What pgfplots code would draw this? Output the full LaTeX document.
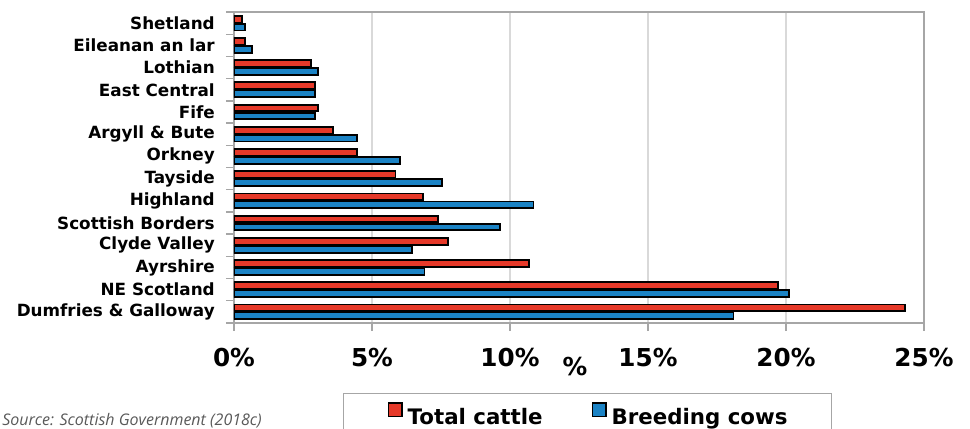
\documentclass[border=0pt]{standalone}
\usepackage{pgfplots}
\pgfplotsset{compat=1.18}
\usepackage{fontspec}
\setmainfont{DejaVu Sans}
\newfontfamily\srcfont{Open Sans}
\definecolor{cred}{RGB}{230,57,41}
\definecolor{cblue}{RGB}{27,131,197}
\definecolor{gridc}{RGB}{217,217,217}
\definecolor{axc}{RGB}{166,166,166}
\begin{document}
\begin{tikzpicture}
\begin{axis}[
  scale only axis,
  width=517.5pt, height=233.25pt,
  xmin=0, xmax=25, ymin=-0.5, ymax=13.5,
  xbar, bar width=5pt,
  tick align=outside,
  xtick pos=bottom, ytick pos=left,
  major tick length=6pt,
  tick style={axc, line width=1pt},
  axis line style={axc, line width=1.2pt},
  xmajorgrids,
  grid style={gridc, line width=1pt},
  xtick={0,5,10,15,20,25},
  xticklabels={0\%,5\%,10\%,15\%,20\%,25\%},
  xticklabel style={font=\fontsize{18.5}{20}\selectfont\bfseries, yshift=-9.7pt},
  ytick={-0.5,0.5,...,13.5},
  yticklabels={},
  extra y ticks={0,1,...,13},
  extra y tick labels={Dumfries \& Galloway,NE Scotland,Ayrshire,Clyde Valley,Scottish Borders,Highland,Tayside,Orkney,Argyll \& Bute,Fife,East Central,Lothian,Eileanan an lar,Shetland},
  extra y tick style={major tick length=0pt, yticklabel style={font=\fontsize{12.6}{14}\selectfont\bfseries, xshift=-10.9pt}},
  xlabel={\%},
  xlabel style={at={(axis description cs:0.494,0)}, anchor=north, yshift=-22pt, font=\fontsize{18.5}{20}\selectfont\bfseries},
  legend columns=2,
  legend style={at={(0.158,-0.2251)}, anchor=north west, draw=axc, line width=1pt,
    font=\fontsize{16}{19}\selectfont\bfseries,
    inner xsep=33pt, inner ysep=6.5pt,
    nodes={inner sep=0pt},
    /tikz/every odd column/.append style={column sep=3.75pt},
    /tikz/every even column/.append style={column sep=36.75pt}},
  legend image code/.code={\draw[#1,/tikz/.cd,line width=1.2pt] (0.6pt,0.6pt) rectangle (10.65pt,10.65pt);},
]
\addplot[fill=cred, draw=black, line width=1.4pt, bar shift=3pt] coordinates {
 (24.3,0) (19.7,1) (10.7,2) (7.75,3) (7.4,4) (6.85,5) (5.85,6) (4.45,7) (3.6,8) (3.05,9) (2.95,10) (2.8,11) (0.4,12) (0.3,13)};
\addlegendentry{Total cattle}
\addplot[fill=cblue, draw=black, line width=1.4pt, bar shift=-3pt] coordinates {
 (18.1,0) (20.1,1) (6.9,2) (6.45,3) (9.65,4) (10.85,5) (7.55,6) (6.0,7) (4.45,8) (2.95,9) (2.95,10) (3.05,11) (0.65,12) (0.4,13)};
\addlegendentry{Breeding cows}
\coordinate (O) at (rel axis cs:0,0);
\end{axis}
\node[anchor=base west, inner sep=0pt, font=\srcfont\itshape\fontsize{12}{14}\selectfont, text=black!65] at ([shift={(-174pt,-76.5pt)}]O) {Source: Scottish Government (2018c)};
\pgfresetboundingbox
\path[use as bounding box] ([shift={(-175.5pt,-78.75pt)}]O) rectangle ++(727.5pt,321pt);
\end{tikzpicture}
\end{document}
